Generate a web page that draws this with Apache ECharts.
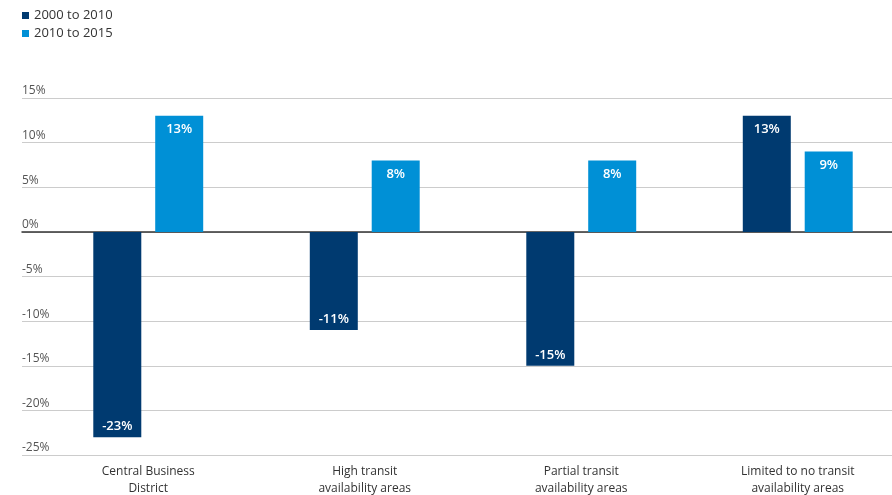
<!DOCTYPE html>
<html>
<head>
<meta charset="utf-8">
<script src="https://cdn.jsdelivr.net/npm/echarts@6/dist/echarts.min.js"></script>
<style>
  html, body { margin: 0; padding: 0; background: #ffffff; }
  #chart { width: 892px; height: 495px; }
</style>
</head>
<body>
<div id="chart"></div>
<script>
// Share change by area type, per period
const categories = [
  'Central Business\nDistrict',
  'High transit\navailability areas',
  'Partial transit\navailability areas',
  'Limited to no transit\navailability areas'
];
const seriesNames = ['2000 to 2010', '2010 to 2015'];
const change2000to2010 = [-23, -11, -15, 13];
const change2010to2015 = [13, 8, 8, 9];
const yTicks = [-25, -20, -15, -10, -5, 0, 5, 10, 15];

const colors = ['#003a70', '#0090d6'];
const font = '"Open Sans", "Noto Sans", sans-serif';

function barData(values) {
  return values.map(v => ({
    value: v,
    label: v < 0
      ? { position: 'insideBottom', distance: 4 }
      : { position: 'insideTop', distance: 7 }
  }));
}

function barSeries(name, values, color) {
  return {
    name: name,
    type: 'bar',
    xAxisIndex: 1,
    yAxisIndex: 1,
    barWidth: 48,
    barGap: '29%',
    itemStyle: { color: color },
    label: {
      show: true,
      color: '#ffffff',
      fontFamily: font,
      fontSize: 13,
      fontWeight: 600,
      formatter: p => p.value + '%'
    },
    data: barData(values)
  };
}

const chart = echarts.init(document.getElementById('chart'), null, { renderer: 'canvas' });

chart.setOption({
  animation: false,
  backgroundColor: '#ffffff',
  color: colors,
  legend: {
    orient: 'vertical',
    left: 22,
    top: 9,
    padding: 0,
    itemWidth: 7,
    itemHeight: 7,
    itemGap: 5,
    icon: 'rect',
    textStyle: { fontFamily: font, fontSize: 13, color: '#333333' },
    data: seriesNames
  },
  grid: [
    // frame for the value scale and gridlines
    { left: 22, right: 0, top: 98, bottom: 40, outerBoundsMode: 'none' },
    // plotting area for the grouped bars (runs a little past the right edge)
    { left: 40, width: 866, top: 98, bottom: 40, outerBoundsMode: 'none' }
  ],
  xAxis: [
    {
      gridIndex: 0,
      type: 'value',
      min: 0,
      max: 1,
      axisLine: { show: true, onZero: true, lineStyle: { color: '#333333', width: 1.5 } },
      axisTick: { show: false },
      axisLabel: { show: false },
      splitLine: { show: false }
    },
    {
      gridIndex: 1,
      type: 'category',
      data: categories,
      axisLine: { show: false },
      axisTick: { show: false },
      axisLabel: {
        margin: 8,
        fontFamily: font,
        fontSize: 12,
        lineHeight: 17,
        color: '#333333'
      }
    }
  ],
  yAxis: [
    {
      gridIndex: 0,
      type: 'value',
      min: yTicks[0],
      max: yTicks[yTicks.length - 1],
      interval: 5,
      axisLine: { show: false },
      axisTick: { show: false },
      axisLabel: {
        inside: true,
        margin: 0,
        align: 'left',
        verticalAlign: 'bottom',
        padding: [0, 0, 1, 0],
        fontFamily: font,
        fontSize: 12,
        color: '#555555',
        formatter: v => v + '%'
      },
      splitLine: { show: true, lineStyle: { color: '#cccccc', width: 1 } }
    },
    {
      gridIndex: 1,
      type: 'value',
      min: yTicks[0],
      max: yTicks[yTicks.length - 1],
      interval: 5,
      show: false,
      splitLine: { show: false }
    }
  ],
  series: [
    barSeries(seriesNames[0], change2000to2010, colors[0]),
    barSeries(seriesNames[1], change2010to2015, colors[1])
  ]
});
</script>
</body>
</html>
